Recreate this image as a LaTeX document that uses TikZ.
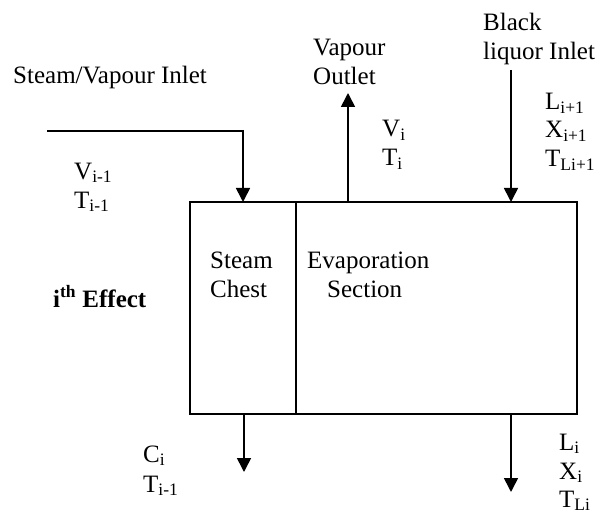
\documentclass[tikz,border=0pt]{standalone}
\usepackage{fontspec}
\setmainfont{Liberation Serif}
\usetikzlibrary{arrows.meta}
\begin{document}
\begin{tikzpicture}[x=1pt,y=-1pt,
  lbl/.style={anchor=base west,inner sep=0pt,font=\fontsize{25}{29}\selectfont},
  edge/.style={line width=1.6pt},
  flow/.style={line width=1.6pt,-{Triangle[width=14pt,length=14pt]}}]
\useasboundingbox (0,0) rectangle (608,516);
% box
\draw[edge] (190,202) rectangle (577,414);
\draw[edge] (296,202) -- (296,414);
% coordinates
\coordinate (sin0) at (47,131);
\coordinate (sin1) at (243,131);
\coordinate (sin2) at (243,202);
\coordinate (vo0) at (348,202);
\coordinate (vo1) at (348,93);
\coordinate (bi0) at (511,70);
\coordinate (bi1) at (511,202);
\coordinate (co0) at (244,414);
\coordinate (co1) at (244,472);
\coordinate (lo0) at (511,414);
\coordinate (lo1) at (511,492);
\draw[flow] (sin0) -- (sin1) -- (sin2);
\draw[flow] (vo0) -- (vo1);
\draw[flow] (bi0) -- (bi1);
\draw[flow] (co0) -- (co1);
\draw[flow] (lo0) -- (lo1);
% labels
\node[lbl] (t1) at (13,84) {Steam/Vapour Inlet};
\node[lbl] (t2) at (74,179) {V\textsubscript{i-1}};
\node[lbl] (t3) at (74,208) {T\textsubscript{i-1}};
\node[lbl] (t4) at (210,268) {Steam};
\node[lbl] (t5) at (210,297) {Chest};
\node[lbl] (t6) at (307,268) {Evaporation};
\node[lbl] (t7) at (327,297) {Section};
\node[lbl] (t8) at (53,307) {\textbf{i\textsuperscript{th} Effect}};
\node[lbl] (t9) at (313,56) {Vapour};
\node[lbl] (t10) at (313,85) {Outlet};
\node[lbl] (t11) at (382,137) {V\textsubscript{i}};
\node[lbl] (t12) at (382,166) {T\textsubscript{i}};
\node[lbl] (t13) at (483,31) {Black};
\node[lbl] (t14) at (483,60) {liquor Inlet};
\node[lbl] (t15) at (545,110) {L\textsubscript{i+1}};
\node[lbl] (t16) at (545,138) {X\textsubscript{i+1}};
\node[lbl] (t17) at (545,167) {T\textsubscript{Li+1}};
\node[lbl] (t18) at (143,462) {C\textsubscript{i}};
\node[lbl] (t19) at (143,492) {T\textsubscript{i-1}};
\node[lbl] (t20) at (559,450) {L\textsubscript{i}};
\node[lbl] (t21) at (559,479) {X\textsubscript{i}};
\node[lbl] (t22) at (559,507) {T\textsubscript{Li}};
\end{tikzpicture}
\end{document}
